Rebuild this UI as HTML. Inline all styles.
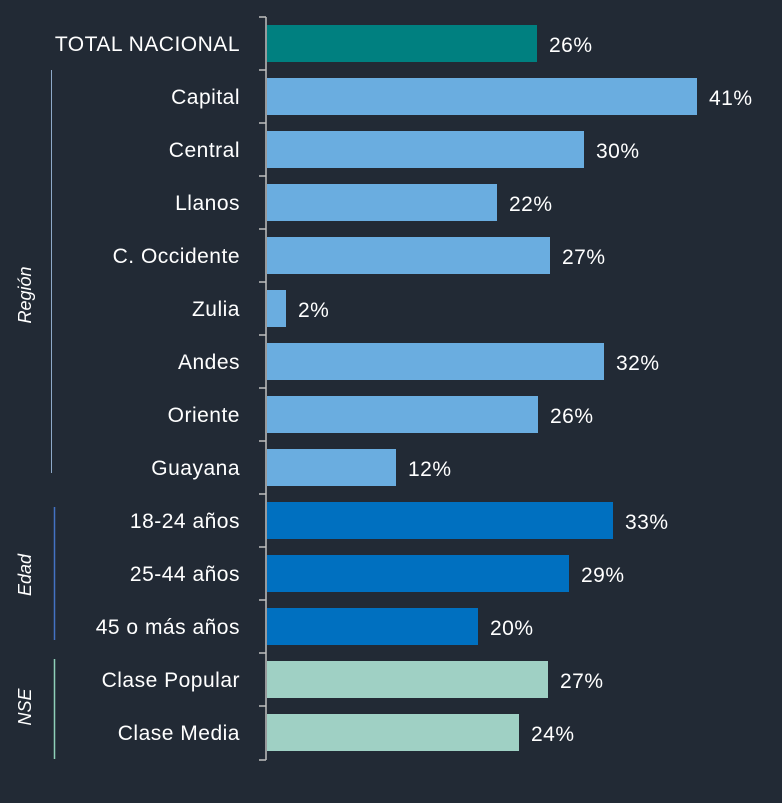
<!DOCTYPE html><html><head><style>body{margin:0;background:#222a35;}</style></head><body>
<svg width="782" height="798" xmlns="http://www.w3.org/2000/svg" font-family="Liberation Sans, sans-serif" font-size="21" letter-spacing="0.5" fill="#fff">
<rect width="782" height="798" fill="#222a35"/>
<line x1="266" y1="17" x2="266" y2="760" stroke="#bfbfbf" stroke-width="1.5"/>
<g stroke="#bfbfbf" stroke-width="1.5">
<line x1="259" y1="17" x2="266" y2="17"/><line x1="259" y1="70" x2="266" y2="70"/><line x1="259" y1="123" x2="266" y2="123"/><line x1="259" y1="176" x2="266" y2="176"/><line x1="259" y1="229" x2="266" y2="229"/><line x1="259" y1="282" x2="266" y2="282"/><line x1="259" y1="335" x2="266" y2="335"/><line x1="259" y1="388" x2="266" y2="388"/><line x1="259" y1="441" x2="266" y2="441"/><line x1="259" y1="494" x2="266" y2="494"/><line x1="259" y1="547" x2="266" y2="547"/><line x1="259" y1="600" x2="266" y2="600"/><line x1="259" y1="653" x2="266" y2="653"/><line x1="259" y1="706" x2="266" y2="706"/><line x1="259" y1="760" x2="266" y2="760"/>
</g>
<line x1="51.5" y1="70" x2="51.5" y2="473" stroke="#8ea9c8" stroke-width="1"/>
<line x1="54.5" y1="507" x2="54.5" y2="640" stroke="#4472c4" stroke-width="1.5"/>
<line x1="54.5" y1="659" x2="54.5" y2="759" stroke="#8fd0b8" stroke-width="1.5"/>
<g font-style="italic" font-size="18" letter-spacing="0">
<text transform="translate(31,295) rotate(-90)" text-anchor="middle">Región</text>
<text transform="translate(31,575) rotate(-90)" text-anchor="middle">Edad</text>
<text transform="translate(31,707) rotate(-90)" text-anchor="middle">NSE</text>
</g>
<g>
<rect x="267" y="25" width="270" height="37" fill="#008080"/>
<rect x="267" y="78" width="430" height="37" fill="#6aade0"/>
<rect x="267" y="131" width="317" height="37" fill="#6aade0"/>
<rect x="267" y="184" width="230" height="37" fill="#6aade0"/>
<rect x="267" y="237" width="283" height="37" fill="#6aade0"/>
<rect x="267" y="290" width="19" height="37" fill="#6aade0"/>
<rect x="267" y="343" width="337" height="37" fill="#6aade0"/>
<rect x="267" y="396" width="271" height="37" fill="#6aade0"/>
<rect x="267" y="449" width="129" height="37" fill="#6aade0"/>
<rect x="267" y="502" width="346" height="37" fill="#0070c0"/>
<rect x="267" y="555" width="302" height="37" fill="#0070c0"/>
<rect x="267" y="608" width="211" height="37" fill="#0070c0"/>
<rect x="267" y="661" width="281" height="37" fill="#9fd0c4"/>
<rect x="267" y="714" width="252" height="37" fill="#9fd0c4"/>
</g>
<g text-anchor="end">
<text x="240" y="51">TOTAL NACIONAL</text><text x="240" y="104">Capital</text><text x="240" y="157">Central</text><text x="240" y="210">Llanos</text><text x="240" y="263">C. Occidente</text><text x="240" y="316">Zulia</text><text x="240" y="369">Andes</text><text x="240" y="422">Oriente</text><text x="240" y="475">Guayana</text><text x="240" y="528">18-24 años</text><text x="240" y="581">25-44 años</text><text x="240" y="634">45 o más años</text><text x="240" y="687">Clase Popular</text><text x="240" y="740">Clase Media</text>
</g>
<g>
<text x="549" y="52">26%</text><text x="709" y="105">41%</text><text x="596" y="158">30%</text><text x="509" y="211">22%</text><text x="562" y="264">27%</text><text x="298" y="317">2%</text><text x="616" y="370">32%</text><text x="550" y="423">26%</text><text x="408" y="476">12%</text><text x="625" y="529">33%</text><text x="581" y="582">29%</text><text x="490" y="635">20%</text><text x="560" y="688">27%</text><text x="531" y="741">24%</text>
</g>
</svg></body></html>
